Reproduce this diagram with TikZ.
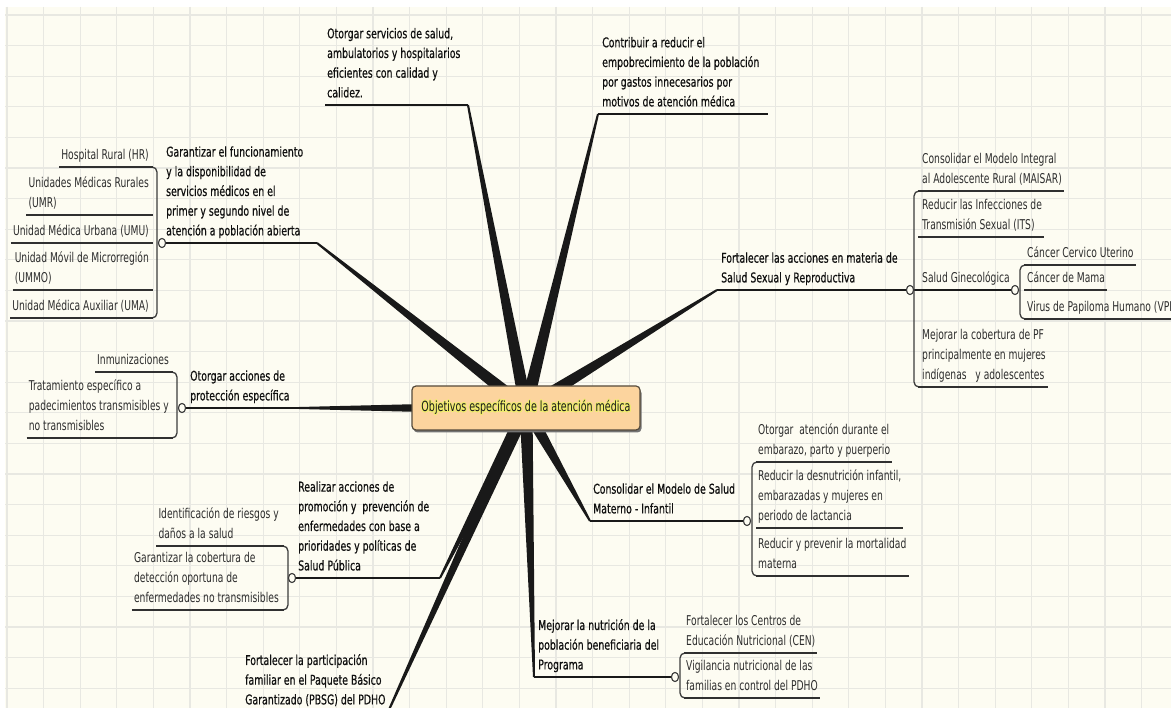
\documentclass[tikz,border=0pt]{standalone}
\usepackage{fontspec}
\setmainfont{DejaVu Sans}[FakeStretch=0.68]
\newfontfamily\topfont{DejaVu Sans}[FakeStretch=0.695,FakeBold=0.5]
\usepackage[copies]{contour}
\contourlength{0.9pt}
\usetikzlibrary{calc,shapes.geometric}
\definecolor{paper}{RGB}{253,252,242}
\definecolor{gridc}{RGB}{232,232,226}
\definecolor{ink}{RGB}{15,15,15}
\definecolor{subink}{RGB}{45,45,45}
\definecolor{linec}{RGB}{25,25,25}
\definecolor{peach}{RGB}{252,212,158}
\definecolor{glowc}{RGB}{240,238,110}
\definecolor{boxline}{RGB}{85,75,60}
\newcommand\mapfont{\fontsize{13.5}{19.7}\selectfont}
\newcommand\branchwedge[2]{\fill[linec] ($(#1)!1pt!90:(#2)$) -- ($(#2)!6.5pt!-90:(#1)$) -- ($(#2)!6.5pt!90:(#1)$) -- ($(#1)!1pt!-90:(#2)$) -- cycle;}
\tikzset{
  gridline/.style={draw=gridc, line width=1.3pt},
  mline/.style={draw=linec, line width=2pt},
  sline/.style={draw=linec!90!white, line width=1.7pt},
  brk/.style={draw=linec!85!white, line width=1.3pt, rounded corners=5pt},
  knob/.style={ellipse, draw=linec!85!white, fill=paper, line width=1pt, minimum width=7pt, minimum height=9pt, inner sep=0pt},
  mtext/.style={anchor=south west, inner sep=0pt, align=left, font=\mapfont\topfont, text=ink, execute at end node=\strut},
  rtext/.style={anchor=south west, inner sep=0pt, align=left, font=\mapfont, text=subink, execute at end node=\strut},
  ltext/.style={anchor=south east, inner sep=0pt, align=left, font=\mapfont, text=subink, execute at end node=\strut},
  hubbox/.style={rectangle, rounded corners=4pt, fill=peach, draw=boxline, line width=1.2pt, minimum width=228pt, minimum height=44pt, inner sep=0pt, font=\fontsize{14}{18}\selectfont, text=black!90}
}
\begin{document}
\begin{tikzpicture}[x=1pt,y=-1pt]
\clip (0,0) rectangle (1171,708);
\fill[white] (0,0) rectangle (1171,708);
\fill[paper] (5,7) rectangle (1171,708);
\foreach \i in {0,...,32} {\draw[gridline] ({7+36.6*\i},7) -- ({7+36.6*\i},708);}
\foreach \j in {0,...,23} {\draw[gridline] (5,{15+30.6*\j}) -- (1171,{15+30.6*\j});}

% hub and branch ends
\coordinate (hub) at (526,408);
\coordinate (e1) at (317,243);
\coordinate (e2) at (468,105);
\coordinate (e3) at (598,114);
\coordinate (e4) at (717,290);
\coordinate (e5) at (299,408);
\coordinate (e6) at (440,578);
\coordinate (e7) at (388,712);
\coordinate (e8) at (590,521);
\coordinate (e9) at (534,677);
\coordinate (b2) at (325,105);
\coordinate (f3) at (768,114);
\coordinate (b7) at (243,712);

\branchwedge{e1}{hub}
\branchwedge{e2}{hub}
\branchwedge{e3}{hub}
\branchwedge{e4}{hub}
\branchwedge{e5}{hub}
\branchwedge{e6}{hub}
\branchwedge{e7}{hub}
\branchwedge{e8}{hub}
\branchwedge{e9}{hub}

% knobs
\node[knob] (k1) at (162,243) {};
\node[knob] (k4) at (910,290) {};
\node[knob] (k4b) at (1015,290) {};
\node[knob] (k5) at (182,408) {};
\node[knob] (k6) at (292,578) {};
\node[knob] (k8) at (747,521) {};
\node[knob] (k9) at (675,677) {};

% main topics
\node[mtext] (m1) at (166,241.5) {Garantizar el funcionamiento\\y la disponibilidad de\\servicios médicos en el\\primer y segundo nivel de\\atención a población abierta};
\node[mtext] (m2) at (327,103.5) {Otorgar servicios de salud,\\ambulatorios y hospitalarios\\eficientes con calidad y\\calidez.};
\node[mtext] (m3) at (602,112.5) {Contribuir a reducir el\\empobrecimiento de la población\\por gastos innecesarios por\\motivos de atención médica};
\node[mtext] (m4) at (721,288.5) {Fortalecer las acciones en materia de\\Salud Sexual y Reproductiva};
\node[mtext] (m5) at (190,406.5) {Otorgar acciones de\\protección específica};
\node[mtext] (m6) at (298,576.5) {Realizar acciones de\\promoción y~ prevención de\\enfermedades con base a\\prioridades y políticas de\\Salud Pública};
\node[mtext] (m7) at (245,710.5) {Fortalecer la participación\\familiar en el Paquete Básico\\Garantizado (PBSG) del PDHO};
\node[mtext] (m8) at (593,519.5) {Consolidar el Modelo de Salud\\Materno - Infantil};
\node[mtext] (m9) at (538,675.5) {Mejorar la nutrición de la\\población beneficiaria del\\Programa};

% main underlines
\draw[mline] (k1) -- (e1);
\draw[mline] (b2) -- (e2);
\draw[mline] (e3) -- (f3);
\draw[mline] (e4) -- (k4);
\draw[mline] (k5) -- (e5);
\draw[mline] (k6) -- (e6);
\draw[mline] (b7) -- (e7);
\draw[mline] (e8) -- (k8);
\draw[mline] (e9) -- (k9);
\draw[mline] (k4) -- (k4b);

% left subtopics of m1
\node[ltext] (s1a) at (149,165.5) {Hospital Rural (HR)};
\node[ltext] (s1b) at (149,213.5) {Unidades Médicas Rurales\\(UMR)};
\node[ltext] (s1c) at (149,241.5) {Unidad Médica Urbana (UMU)};
\node[ltext] (s1d) at (149,288.5) {Unidad Móvil de Microrregión\\(UMMO)};
\node[ltext] (s1e) at (149,316.5) {Unidad Médica Auxiliar (UMA)};
\draw[brk] (149,167) -- (157,167) -- (157,318) -- (149,318);
\foreach \n/\y in {s1a/167,s1b/215,s1c/243,s1d/290,s1e/318}
  {\draw[sline] ($(\n.south west)+(-2,1.5)$) -- (153,\y);}

% left subtopics of m5
\node[ltext] (s5a) at (169,370.5) {Inmunizaciones};
\node[ltext] (s5b) at (169,436.5) {Tratamiento específico a\\padecimientos transmisibles y\\no transmisibles};
\draw[brk] (169,372) -- (177,372) -- (177,438) -- (169,438);
\foreach \n/\y in {s5a/372,s5b/438}
  {\draw[sline] ($(\n.south west)+(-2,1.5)$) -- (173,\y);}

% left subtopics of m6
\node[ltext] (s6a) at (279,544.5) {Identificación de riesgos y\\daños a la salud};
\node[ltext] (s6b) at (279,608.5) {Garantizar la cobertura de\\detección oportuna de\\enfermedades no transmisibles};
\draw[brk] (280,546) -- (288,546) -- (288,610) -- (280,610);
\foreach \n/\y in {s6a/546,s6b/610}
  {\draw[sline] ($(\n.south west)+(-2,1.5)$) -- (284,\y);}

% right subtopics of m4
\node[rtext] (s4a) at (922,189.5) {Consolidar el Modelo Integral\\al Adolescente Rural (MAISAR)};
\node[rtext] (s4b) at (922,235.5) {Reducir las Infecciones de\\Transmisión Sexual (ITS)};
\node[rtext] (s4c) at (922,288.5) {Salud Ginecológica};
\node[rtext] (s4d) at (922,385.5) {Mejorar la cobertura de PF\\principalmente en mujeres\\indígenas~~ y adolescentes};
\draw[brk] (922,191) -- (914,191) -- (914,387) -- (922,387);
\foreach \n/\y in {s4a/191,s4b/237,s4d/387}
  {\draw[sline] (918,\y) -- ($(\n.south east)+(2,1.5)$);}

% sub-subtopics of s4c
\node[rtext] (s4e) at (1027,263.5) {Cáncer Cervico Uterino};
\node[rtext] (s4f) at (1027,288.5) {Cáncer de Mama};
\node[rtext] (s4g) at (1027,317.5) {Virus de Papiloma Humano (VPH)};
\draw[brk] (1028,265) -- (1020,265) -- (1020,319) -- (1028,319);
\foreach \n/\y in {s4e/265,s4f/290,s4g/319}
  {\draw[sline] (1024,\y) -- ($(\n.south east)+(2,1.5)$);}

% right subtopics of m8
\node[rtext] (s8a) at (758,460.5) {Otorgar~ atención durante el\\embarazo, parto y puerperio};
\node[rtext] (s8b) at (758,526.5) {Reducir la desnutrición infantil,\\embarazadas y mujeres en\\periodo de lactancia};
\node[rtext] (s8c) at (758,574.5) {Reducir y prevenir la mortalidad\\materna};
\draw[brk] (760,462) -- (752,462) -- (752,576) -- (760,576);
\foreach \n/\y in {s8a/462,s8b/528,s8c/576}
  {\draw[sline] (756,\y) -- ($(\n.south east)+(2,1.5)$);}

% right subtopics of m9
\node[rtext] (s9a) at (686,651.5) {Fortalecer los Centros de\\Educación Nutricional (CEN)};
\node[rtext] (s9b) at (686,696.5) {Vigilancia nutricional de las\\familias en control del PDHO};
\draw[brk] (688,653) -- (680,653) -- (680,698) -- (688,698);
\foreach \n/\y in {s9a/653,s9b/698}
  {\draw[sline] (684,\y) -- ($(\n.south east)+(2,1.5)$);}

% redraw knobs on top
\foreach \k in {k1,k4,k4b,k5,k6,k8,k9}
  {\filldraw[fill=paper, draw=linec!85!white, line width=1pt] (\k) ellipse [x radius=3.5, y radius=4.5];}

% central topic
\fill[black!55, rounded corners=4pt] (413.5,389) rectangle (641.5,432.5);
\node[hubbox] (ctr) at (hub) {\contour{glowc}{Objetivos específicos de la atención médica}};
\end{tikzpicture}
\end{document}
